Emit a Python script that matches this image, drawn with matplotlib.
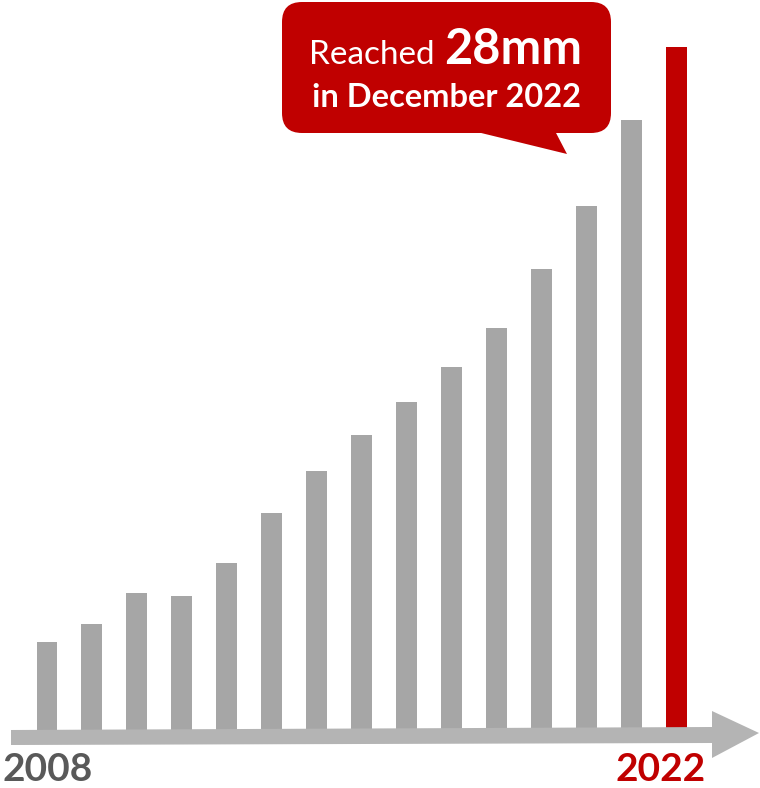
import matplotlib.pyplot as plt
import matplotlib.transforms as mtransforms
from matplotlib.patches import Polygon, FancyBboxPatch

plt.rcParams['font.family'] = ['Lato', 'DejaVu Sans']

# yearly values (mm), last year highlighted
years = [2008, 2009, 2010, 2011, 2012, 2013, 2014, 2015,
         2016, 2017, 2018, 2019, 2020, 2021, 2022]
values = [3.6, 4.35, 5.6, 5.5, 6.85, 8.9, 10.6, 12.1,
          13.45, 14.9, 16.5, 18.9, 21.5, 25.0, 28.0]
first_label = '2008'
last_label = '2022'

W, H = 760, 788
fig = plt.figure(figsize=(W / 100, H / 100), dpi=100)
ax = fig.add_axes([0, 0, 1, 1])
ax.axis('off')

grey = '#a6a6a6'
red = '#c00000'
colors = [grey] * (len(years) - 1) + [red]
ax.bar(years, values, width=0.467, color=colors, zorder=2)
ax.set_xlim(2006.954, 2023.869)
ax.set_ylim(-2.378, 29.93)

# pixel coords measured from the top-left corner
px = mtransforms.Affine2D().scale(1 / W, -1 / H).translate(0, 1) + fig.transFigure

# timeline arrow
arrow = Polygon([(11, 730), (712, 727), (712, 711), (759, 733),
                 (712, 758), (712, 743), (11, 745)],
                closed=True, facecolor='#b4b4b4', edgecolor='none',
                transform=px, zorder=3)
fig.patches.append(arrow)

fig.text(2, 781, first_label, transform=px, fontsize=28, fontweight='bold',
         color='#595959', ha='left', va='baseline')
fig.text(706, 781, last_label, transform=px, fontsize=28, fontweight='bold',
         color=red, ha='right', va='baseline')

# callout bubble
box = FancyBboxPatch((282, 2), 329, 131, boxstyle='round,pad=0,rounding_size=20',
                     facecolor=red, edgecolor='none', transform=px, zorder=4)
tail = Polygon([(473, 131), (567, 154), (555, 131)], closed=True,
               facecolor=red, edgecolor='none', transform=px, zorder=4)
fig.patches.append(box)
fig.patches.append(tail)

fig.text(309, 64, 'Reached', transform=px, fontsize=24, fontweight='normal',
         color='white', ha='left', va='baseline', zorder=5)
fig.text(582, 64, '28mm', transform=px, fontsize=35, fontweight='bold',
         color='white', ha='right', va='baseline', zorder=5)
fig.text(446, 107, 'in December 2022', transform=px, fontsize=23.5,
         fontweight='bold', color='white', ha='center', va='baseline', zorder=5)

fig.savefig('out.png', dpi=100)
